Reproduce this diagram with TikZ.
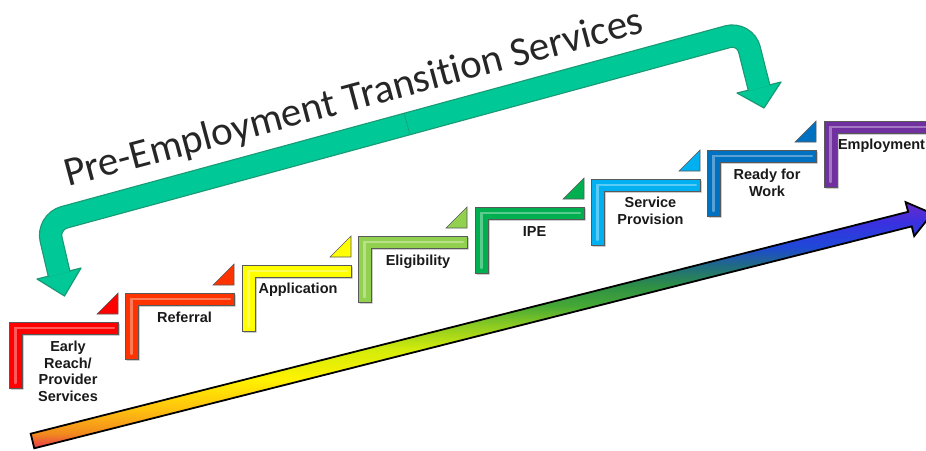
\documentclass[tikz,border=0pt]{standalone}
\usepackage{fontspec}
\usepackage{xcolor}
\usepackage{tikz}
\usetikzlibrary{calc}
\newfontfamily\labelfont{Liberation Sans}
\newfontfamily\titlefont{Carlito}[Ligatures=NoCommon]

\definecolor{earlyred}{HTML}{FF0000}
\definecolor{referralorange}{HTML}{FF3300}
\definecolor{applyyellow}{HTML}{FFFF00}
\definecolor{eligiblelime}{HTML}{92D050}
\definecolor{ipegreen}{HTML}{00B050}
\definecolor{servicecyan}{HTML}{00B0F0}
\definecolor{readyblue}{HTML}{0070C0}
\definecolor{jobpurple}{HTML}{7030A0}
\definecolor{bandfill}{HTML}{00C896}
\definecolor{bandedge}{HTML}{1A9A74}

\definecolor{tailred}{HTML}{E8364F}
\definecolor{tailorange}{HTML}{F28A1E}
\definecolor{midamber}{HTML}{FFC20E}
\definecolor{midyellow}{HTML}{FFF200}
\definecolor{midlime}{HTML}{D4EC0A}
\definecolor{midgrass}{HTML}{8CCB22}
\definecolor{midgreen}{HTML}{45A835}
\definecolor{deepgreen}{HTML}{2E8F44}
\definecolor{deepteal}{HTML}{206C80}
\definecolor{headblue}{HTML}{1F48D8}
\definecolor{headindigo}{HTML}{3A30E0}
\definecolor{headviolet}{HTML}{6A2CC8}

\pgfdeclareverticalshading{rainbow}{100bp}{color(0bp)=(tailred); color(25bp)=(tailred);
  color(28bp)=(tailorange); color(33bp)=(midamber); color(39bp)=(midyellow);
  color(45bp)=(midlime); color(50bp)=(midgrass); color(54bp)=(midgreen);
  color(58bp)=(deepgreen); color(62bp)=(deepteal); color(66bp)=(headblue);
  color(71bp)=(headindigo); color(75bp)=(headviolet); color(100bp)=(headviolet)}

\tikzset{
  stair/.style={fill=#1, draw=black!65, line width=0.6pt,
    preaction={fill=black!30, transform canvas={shift={(1.5pt,-1.5pt)}}},
    path picture={\draw[white, opacity=.35, line width=2.5pt, line cap=round]
      ([shift={(6.5,61)}]path picture bounding box.north west)
      -- ([shift={(6.5,6)}]path picture bounding box.north west)
      -- ([shift={(105,6)}]path picture bounding box.north west);}},
  tab/.style={fill=#1, draw=black!65, line width=0.6pt},
  steplabel/.style={font=\labelfont\bfseries\fontsize{14.5}{16.5}\selectfont,
    align=center, anchor=north, inner sep=0pt, text=black!90},
  title/.style={font=\titlefont\fontsize{41}{41}\selectfont, rotate=15,
    anchor=base west, inner sep=0pt, text=black!85},
  band/.style={draw=bandedge, line width=1.2pt, double=bandfill,
    double distance=21pt, rounded corners=18pt},
  bandhead/.style={fill=bandfill, draw=bandedge, line width=1.2pt, line join=round},
  progress/.style={shade, shading=rainbow, draw=black, line width=1.8pt, line join=miter}
}

\begin{document}
\begin{tikzpicture}[x=1pt, y=-1pt]
    \useasboundingbox (0,0) rectangle (926,450);

    % Transition band with its two heads
    \draw[bandhead] (37,279) -- (64.5,296) -- (81,268) -- cycle;
    \draw[bandhead] (737,93) -- (764,108) -- (781,82) -- cycle;
    \draw[band] (59.2,274.2) -- (47,222) -- (745,32) -- (759.2,88.2);
    \draw[bandedge, line width=0.6pt] (404.1,113.4) -- (409.9,134.6);

    % Title over the band
    \node[title] (banner) at (68,187) {Pre-Employment Transition Services};

    % Stairs
    \draw[stair=earlyred] (9,322) -- ++(109,0) -- ++(0,12) -- ++(-96,0) -- ++(0,54) -- ++(-13,0) -- cycle;
    \draw[stair=referralorange] (125,293) -- ++(109,0) -- ++(0,12) -- ++(-96,0) -- ++(0,54) -- ++(-13,0) -- cycle;
    \draw[stair=applyyellow] (242,265) -- ++(109,0) -- ++(0,12) -- ++(-96,0) -- ++(0,54) -- ++(-13,0) -- cycle;
    \draw[stair=eligiblelime] (358,236) -- ++(109,0) -- ++(0,12) -- ++(-96,0) -- ++(0,54) -- ++(-13,0) -- cycle;
    \draw[stair=ipegreen] (475,207) -- ++(109,0) -- ++(0,12) -- ++(-96,0) -- ++(0,54) -- ++(-13,0) -- cycle;
    \draw[stair=servicecyan] (591,179) -- ++(109,0) -- ++(0,12) -- ++(-96,0) -- ++(0,54) -- ++(-13,0) -- cycle;
    \draw[stair=readyblue] (707,150) -- ++(109,0) -- ++(0,12) -- ++(-96,0) -- ++(0,54) -- ++(-13,0) -- cycle;
    \draw[stair=jobpurple] (824,121) -- ++(109,0) -- ++(0,12) -- ++(-96,0) -- ++(0,54) -- ++(-13,0) -- cycle;

    % Corner tabs
    \draw[tab=earlyred] (97,314) -- ++(21,-21) -- ++(0,21) -- cycle;
    \draw[tab=referralorange] (213,285) -- ++(21,-21) -- ++(0,21) -- cycle;
    \draw[tab=applyyellow] (330,257) -- ++(21,-21) -- ++(0,21) -- cycle;
    \draw[tab=eligiblelime] (446,228) -- ++(21,-21) -- ++(0,21) -- cycle;
    \draw[tab=ipegreen] (563,199) -- ++(21,-21) -- ++(0,21) -- cycle;
    \draw[tab=servicecyan] (679,171) -- ++(21,-21) -- ++(0,21) -- cycle;
    \draw[tab=readyblue] (795,142) -- ++(21,-21) -- ++(0,21) -- cycle;

    % Labels
    \node[steplabel] (early) at (68,341) {Early\\Reach/\\Provider\\Services};
    \node[steplabel] (referral) at (184.5,312) {Referral};
    \node[steplabel] (application) at (298,283) {Application};
    \node[steplabel] (eligibility) at (418,255) {Eligibility};
    \node[steplabel] (ipe) at (534.5,226) {IPE};
    \node[steplabel] (service) at (650.5,197) {Service\\Provision};
    \node[steplabel] (ready) at (767,169) {Ready for\\Work};
    \node[steplabel] (employment) at (881.5,139) {Employment};

    % Progress arrow
    \draw[progress] (30.7,433.7) -- (908.1,211.8) -- (905.6,202.1) -- (932.2,213.5)
        -- (914.2,236.1) -- (911.7,226.4) -- (34.3,448.3) -- cycle;
\end{tikzpicture}
\end{document}
